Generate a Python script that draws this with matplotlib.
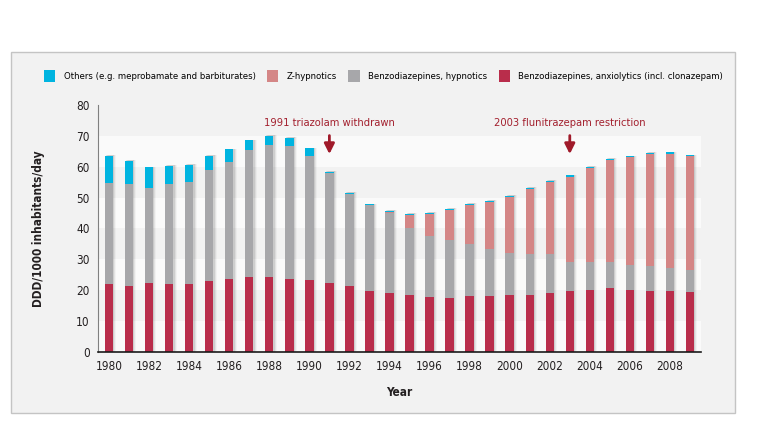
import matplotlib
matplotlib.use("Agg")
import matplotlib.pyplot as plt
from matplotlib.patches import Rectangle
import numpy as np

years = list(range(1980, 2010))
anxiolytics = [22.1, 21.5, 22.4, 22.1, 21.9, 22.9, 23.5, 24.2, 24.3, 23.8,
               23.3, 22.4, 21.5, 19.8, 19.2, 18.3, 17.7, 17.4, 18.0, 18.2,
               18.3, 18.6, 19.2, 19.7, 20.2, 20.6, 20.2, 19.9, 19.9, 19.4]
benzo_hypnotics = [32.7, 33.0, 30.7, 32.3, 33.3, 36.0, 38.1, 41.1, 42.8, 42.9,
                   40.2, 35.5, 29.7, 27.7, 25.8, 22.0, 20.0, 18.8, 17.1, 15.3,
                   13.9, 13.3, 12.4, 9.4, 9.0, 8.7, 8.1, 7.8, 7.4, 7.0]
z_hypnotics = [0, 0, 0, 0, 0, 0, 0, 0, 0, 0,
               0, 0, 0, 0, 0.4, 4.2, 7.0, 9.9, 12.5, 15.2,
               18.0, 20.8, 23.4, 27.7, 30.4, 32.9, 34.7, 36.3, 36.9, 37.0]
others = [8.8, 7.5, 6.7, 5.9, 5.4, 4.6, 4.1, 3.3, 2.9, 2.7,
          2.5, 0.5, 0.4, 0.3, 0.3, 0.3, 0.3, 0.3, 0.3, 0.3,
          0.4, 0.4, 0.4, 0.4, 0.4, 0.3, 0.4, 0.5, 0.5, 0.3]

series_labels = ["Benzodiazepines, anxiolytics (incl. clonazepam)",
                 "Benzodiazepines, hypnotics", "Z-hypnotics",
                 "Others (e.g. meprobamate and barbiturates)"]
colors = ["#b92d4b", "#a7a7aa", "#d48686", "#00b4e0"]
xtick_years = list(range(1980, 2010, 2))
yticks = list(range(0, 90, 10))
annotations = [(1991, "1991 triazolam withdrawn"),
               (2003, "2003 flunitrazepam restriction")]

plt.rcParams['font.family'] = ["DejaVu Sans"]
plt.rcParams['font.stretch'] = "condensed"

fig = plt.figure(figsize=(7.83, 4.28), dpi=100)
fig.patch.set_facecolor("white")
# background panel
panel = Rectangle((11 / 783, 1 - 413 / 428), (735 - 11) / 783, (413 - 52) / 428,
                  transform=fig.transFigure, facecolor="#f2f2f2",
                  edgecolor="#c4c4c4", linewidth=1.0, zorder=-5)
fig.patches.append(panel)

ax = fig.add_axes([98 / 783, 1 - 352 / 428, (701 - 98) / 783, (352 - 105) / 428])
ax.set_facecolor("none")
ax.set_zorder(2)

# alternating bands
for lo in range(0, 70, 20):
    ax.axhspan(lo, lo + 10, color="#fafafa", zorder=0, lw=0)

x = np.array(years, dtype=float)
width = 0.42
stack = [anxiolytics, benzo_hypnotics, z_hypnotics, others]
total = np.sum(np.array(stack), axis=0)

# soft shadows
for dx, a in [(0.06, 0.09), (0.11, 0.06), (0.16, 0.03)]:
    ax.bar(x + dx, total + 0.2, width=width, color="#000000", alpha=a,
           zorder=1, lw=0)

bottom = np.zeros(len(years))
handles = []
for vals, c, lab in zip(stack, colors, series_labels):
    b = ax.bar(x, vals, width=width, bottom=bottom, color=c, zorder=2,
               lw=0, label=lab)
    handles.append(b)
    bottom = bottom + np.array(vals)

ax.set_xlim(1979.45, 2009.55)
ax.set_ylim(0, 80)
ax.set_xticks(xtick_years)
ax.set_xticklabels([str(y) for y in xtick_years], fontsize=8.5)
ax.set_yticks(yticks)
ax.set_yticklabels([str(v) for v in yticks], fontsize=8.5)
ax.tick_params(axis="both", length=0, pad=6, colors="#231f20")
for s in ["top", "right"]:
    ax.spines[s].set_visible(False)
ax.spines["left"].set_color("#808080")
ax.spines["left"].set_linewidth(0.8)
ax.spines["bottom"].set_color("#1a1a1a")
ax.spines["bottom"].set_linewidth(1.2)

ax.set_xlabel("Year", fontsize=8.5, fontweight="bold", labelpad=9, color="#231f20")
ax.set_ylabel("DDD/1000 inhabitants/day", fontsize=8.5, fontweight="bold",
              labelpad=22, color="#231f20")

for yr, txt in annotations:
    ax.annotate("", xy=(yr, 63.2), xytext=(yr, 71.0),
                arrowprops=dict(arrowstyle="-|>,head_width=0.3,head_length=0.6",
                                color="#a01a2a", lw=2.0))
    ax.text(yr, 72.6, txt, ha="center", va="bottom", fontsize=8,
            color="#a3202e")

# legend (order as in reference)
leg_handles = [handles[3], handles[2], handles[1], handles[0]]
leg_labels = [series_labels[3], series_labels[2], series_labels[1], series_labels[0]]
leg = fig.legend(leg_handles, leg_labels, loc="center left",
                 bbox_to_anchor=(40 / 783, 1 - 76 / 428), ncol=4, frameon=False,
                 fontsize=6.8, handlelength=1.2, handleheight=1.5,
                 columnspacing=1.2, handletextpad=0.9, borderaxespad=0)

fig.savefig("out.png", dpi=100, facecolor="white")
